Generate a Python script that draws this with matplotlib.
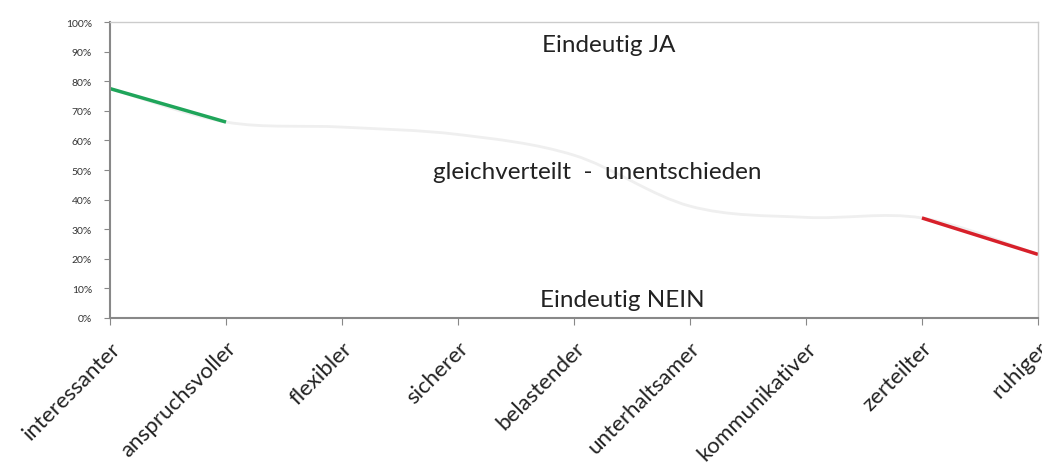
import matplotlib
matplotlib.use("Agg")
import matplotlib.pyplot as plt
from matplotlib.path import Path
from matplotlib.patches import PathPatch
from matplotlib.ticker import PercentFormatter

plt.rcParams['font.family'] = ['Lato', 'DejaVu Sans']

# Data
categories = ["interessanter", "anspruchsvoller", "flexibler", "sicherer", "belastender",
              "unterhaltsamer", "kommunikativer", "zerteilter", "ruhiger"]
values = [0.775, 0.662, 0.645, 0.62, 0.55, 0.378, 0.34, 0.338, 0.215]
zone_labels = ["Eindeutig JA", "gleichverteilt  -  unentschieden", "Eindeutig NEIN"]

fig = plt.figure(figsize=(10.42, 4.64), dpi=100)
ax = fig.add_axes([0.1056, 0.3125, 0.8905, 0.6379])

x = list(range(len(categories)))

# smoothed line (Excel-like) as bezier through the points
verts = [(x[0], values[0])]
codes = [Path.MOVETO]
for i in range(len(x) - 1):
    p0 = (x[max(i - 1, 0)], values[max(i - 1, 0)])
    p1 = (x[i], values[i])
    p2 = (x[i + 1], values[i + 1])
    p3 = (x[min(i + 2, len(x) - 1)], values[min(i + 2, len(x) - 1)])
    c1 = (p1[0] + (p2[0] - p0[0]) / 6, p1[1] + (p2[1] - p0[1]) / 6)
    c2 = (p2[0] - (p3[0] - p1[0]) / 6, p2[1] - (p3[1] - p1[1]) / 6)
    verts += [c1, c2, p2]
    codes += [Path.CURVE4] * 3
ax.add_patch(PathPatch(Path(verts, codes), facecolor='none', edgecolor='#efefef', lw=2))

ax.plot(x[:2], values[:2], color='#1fa55a', lw=2.5, solid_capstyle='butt')
ax.plot(x[-2:], values[-2:], color='#d7202a', lw=2.5, solid_capstyle='butt')

ax.text(4.3, 0.925, zone_labels[0], ha='center', va='center', fontsize=17.5, color='#222222')
ax.text(4.2, 0.495, zone_labels[1], ha='center', va='center', fontsize=17.5, color='#222222')
ax.text(4.42, 0.063, zone_labels[2], ha='center', va='center', fontsize=17.5, color='#222222')

ax.set_xlim(0, len(x) - 1)
ax.set_ylim(0, 1)
ax.set_yticks([i / 10 for i in range(11)])
ax.yaxis.set_major_formatter(PercentFormatter(1.0, decimals=0))
ax.set_xticks(x)
ax.set_xticklabels(categories, rotation=45, ha='right', rotation_mode='anchor', fontsize=16)

ax.tick_params(axis='y', labelsize=7.5, length=4, color='#888888', labelcolor='#333333', pad=9)
ax.tick_params(axis='x', length=5, color='#888888', labelcolor='#222222', pad=9)
for s in ['left', 'bottom']:
    ax.spines[s].set_color('#888888')
    ax.spines[s].set_linewidth(1.5)
for s in ['top', 'right']:
    ax.spines[s].set_color('#cccccc')
    ax.spines[s].set_linewidth(1.0)

fig.savefig("out.png", dpi=100)
